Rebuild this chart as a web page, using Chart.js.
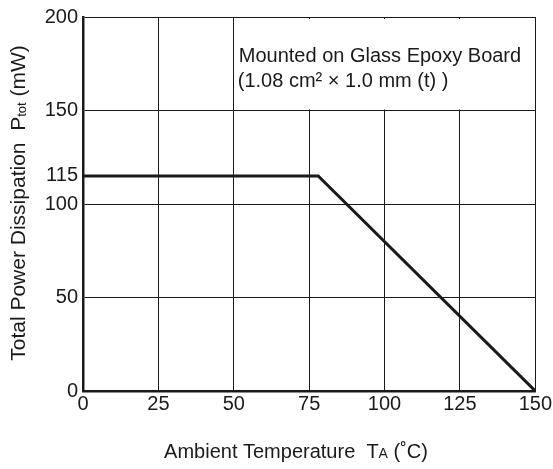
<!DOCTYPE html>
<html>
<head>
<meta charset="utf-8">
<script src="https://cdn.jsdelivr.net/npm/chart.js@4.4.0/dist/chart.umd.min.js"></script>
<style>
  html, body { margin: 0; padding: 0; background: #fff; }
  #wrap { width: 553px; height: 469px; }
</style>
</head>
<body>
<div id="wrap"><canvas id="deratingChart"></canvas></div>
<script>
// ================= DATA =================
var tempPoints = [0, 78, 150];        // Ambient temperature (°C)
var powerPoints = [115, 115, 0];      // Ptot (mW)
var xTicks = [0, 25, 50, 75, 100, 125, 150];
var yTicks = [0, 50, 100, 115, 150, 200];
var noteLines = ["Mounted on Glass Epoxy Board", "(1.08 cm\u00B2 \u00D7 1.0 mm (t) )"];

var FONT = "'Liberation Sans', Arial, sans-serif";
var INK = "#1a1a1a";

var lineData = tempPoints.map(function (t, i) {
  return { x: t, y: powerPoints[i] };
});

// draw a list of text runs (different sizes / offsets) centred at cx
function drawRuns(ctx, runs, cx, cy) {
  var total = 0;
  runs.forEach(function (r) {
    ctx.font = r.size + "px " + FONT;
    r.w = ctx.measureText(r.t).width;
    total += r.w;
  });
  var x = cx - total / 2;
  ctx.textAlign = "left";
  ctx.textBaseline = "alphabetic";
  runs.forEach(function (r) {
    ctx.font = r.size + "px " + FONT;
    ctx.fillText(r.t, x, cy + (r.dy || 0));
    x += r.w;
  });
}

// ================= PLUGIN: note box + axis titles =================
var extras = {
  id: "extras",
  beforeDatasetsDraw: function (chart) {
    var ctx = chart.ctx;
    var xs = chart.scales.x, ys = chart.scales.y;
    var left = xs.getPixelForValue(50) + 1;
    var right = chart.chartArea.right - 2;
    var top = chart.chartArea.top + 2;
    var bottom = ys.getPixelForValue(150) - 1;
    ctx.save();
    ctx.fillStyle = "#fff";
    ctx.fillRect(left, top, right - left, bottom - top);
    ctx.fillStyle = INK;
    ctx.font = "20px " + FONT;
    ctx.textAlign = "left";
    ctx.textBaseline = "alphabetic";
    ctx.fillText(noteLines[0], left + 4, top + 43);
    ctx.fillText(noteLines[1], left + 3, top + 68);
    ctx.restore();
  },
  afterDraw: function (chart) {
    var ctx = chart.ctx;
    ctx.save();
    ctx.fillStyle = INK;
    // x title
    drawRuns(ctx, [
      { t: "Ambient Temperature  T", size: 20 },
      { t: "A", size: 14 },
      { t: " (\u02DAC)", size: 20 }
    ], 296, 458);
    // y title
    ctx.translate(25, 203);
    ctx.rotate(-Math.PI / 2);
    drawRuns(ctx, [
      { t: "Total Power Dissipation  P", size: 21 },
      { t: "tot", size: 13, dy: 1 },
      { t: " (mW)", size: 21 }
    ], 0, 0);
    ctx.restore();
  }
};

// ================= CHART =================
var ctx = document.getElementById("deratingChart").getContext("2d");
var chart = new Chart(ctx, {
  type: "line",
  data: {
    datasets: [{
      data: lineData,
      borderColor: INK,
      borderWidth: 3,
      pointRadius: 0,
      tension: 0,
      fill: false
    }]
  },
  options: {
    responsive: true,
    maintainAspectRatio: false,
    animation: false,
    layout: { padding: { top: 14, right: 17, left: 0, bottom: 0 } },
    plugins: {
      legend: { display: false },
      tooltip: { enabled: false }
    },
    scales: {
      x: {
        type: "linear",
        min: 0,
        max: 150,
        afterBuildTicks: function (scale) {
          scale.ticks = xTicks.map(function (v) { return { value: v }; });
        },
        afterFit: function (scale) { scale.height = 78; },
        grid: { color: INK, lineWidth: 1, drawTicks: false },
        border: { color: INK, width: 2.5 },
        ticks: {
          color: INK,
          font: { family: FONT, size: 20 },
          padding: 1,
          maxRotation: 0,
          autoSkip: false
        }
      },
      y: {
        min: 0,
        max: 200,
        afterBuildTicks: function (scale) {
          scale.ticks = yTicks.map(function (v) { return { value: v }; });
        },
        afterFit: function (scale) { scale.width = 83; },
        grid: {
          color: function (c) { return c.tick && c.tick.value === 115 ? "rgba(0,0,0,0)" : INK; },
          lineWidth: 1,
          drawTicks: false
        },
        border: { color: INK, width: 2.5 },
        ticks: {
          color: INK,
          font: { family: FONT, size: 20 },
          padding: 5,
          autoSkip: false
        }
      }
    }
  },
  plugins: [extras]
});
</script>
</body>
</html>
